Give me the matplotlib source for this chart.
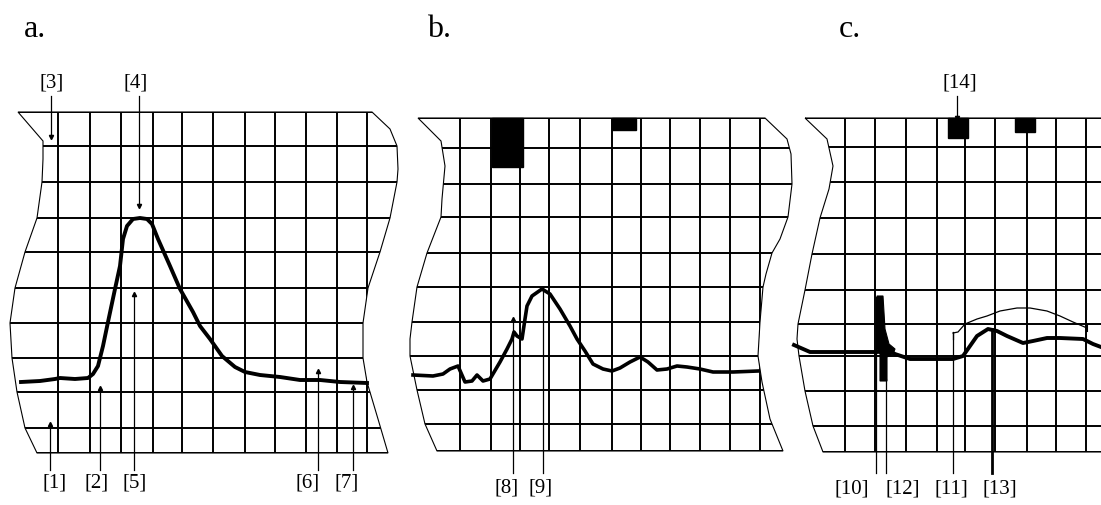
import matplotlib
matplotlib.use("Agg")
import matplotlib.pyplot as plt
from matplotlib.patches import Polygon, Rectangle

W, H = 1101, 506

# ---------------- panel titles ----------------
panel_titles = ["a.", "b.", "c."]
title_x = [24, 427, 839]
title_y = 37

# ---------------- grids (pixel coordinates of the chart paper) ----------------
grid_x_a = [58, 90, 121, 153, 182, 213, 245, 275, 306, 337, 367]
grid_y_a = [113, 147, 183, 219, 253, 289, 324, 359, 393, 429, 454]
grid_x_b = [460, 491, 520, 549, 580, 612, 641, 670, 700, 730, 760]
grid_y_b = [119, 149, 185, 218, 254, 288, 323, 357, 391, 425, 452]
grid_x_c = [845, 875, 906, 937, 965, 995, 1027, 1056, 1086]
grid_y_c = [119, 148, 183, 219, 255, 291, 325, 357, 392, 427, 453]

# torn-paper outlines
edge_a_x = [18, 372, 390, 397, 398, 397, 390, 380, 368, 363, 363, 367, 378, 388,
            37, 25, 17, 12, 10, 15, 25, 37, 42, 43, 43, 18]
edge_a_y = [113, 113, 130, 147, 170, 183, 219, 253, 289, 324, 359, 383, 420, 454,
            454, 429, 393, 359, 324, 289, 253, 219, 183, 160, 142, 113]
edge_b_x = [418, 765, 787, 791, 792, 788, 780, 772, 766, 763, 760, 758, 762, 770, 783,
            437, 425, 417, 410, 410, 412, 417, 427, 441, 442, 445, 441, 418]
edge_b_y = [119, 119, 140, 155, 185, 218, 240, 254, 275, 288, 323, 357, 383, 420, 452,
            452, 425, 391, 357, 340, 323, 288, 254, 218, 200, 167, 142, 119]
edge_c_x = [805, 1115, 1115, 823, 813, 805, 799, 797, 798, 805, 812, 820, 829, 833, 827, 805]
edge_c_y = [119, 119, 453, 453, 427, 392, 357, 340, 325, 291, 255, 219, 190, 167, 140, 119]

# ---------------- recorded traces ----------------
trace_a_x = [21, 40, 55, 60, 75, 88, 93, 98, 103, 108, 115, 120, 123, 127, 133, 140, 147,
             152, 158, 170, 180, 193, 200, 210, 222, 235, 245, 260, 280, 300, 320, 340, 367]
trace_a_y = [383, 382, 380, 379, 380, 379, 375, 367, 347, 323, 290, 267, 240, 227, 220, 219, 220,
             225, 240, 267, 290, 313, 327, 340, 357, 368, 373, 376, 378, 381, 381, 383, 384]

trace_b_x = [413, 433, 443, 450, 458, 465, 472, 477, 483, 490, 500, 507, 512, 514, 517, 522,
             525, 527, 532, 542, 550, 560, 570, 577, 585, 593, 603, 612, 620, 630, 640, 648,
             657, 667, 677, 687, 700, 713, 733, 758]
trace_b_y = [376, 377, 375, 370, 367, 383, 382, 376, 382, 380, 363, 350, 340, 333, 337, 340,
             320, 307, 297, 290, 295, 310, 327, 340, 352, 365, 370, 372, 369, 363, 358, 363,
             371, 370, 367, 368, 370, 373, 373, 372]

trace_c_x = [794, 810, 860, 877, 890, 895, 910, 953, 963, 970, 977, 988,
             997, 1007, 1023, 1033, 1047, 1060, 1083, 1093, 1101]
trace_c_y = [346, 353, 353, 353, 352, 355, 360, 360, 357, 347, 337, 330,
             332, 337, 344, 342, 339, 339, 340, 345, 348]

# sharp artefact spike in trace c (filled outline)
spike_c_x = [877, 883, 885, 889, 895, 893, 887, 887, 880, 880, 877]
spike_c_y = [297, 297, 330, 345, 350, 355, 358, 382, 382, 355, 350]

thin_c_x = [953, 958, 965, 977, 987, 1000, 1017, 1030, 1047, 1060, 1073, 1087]
thin_c_y = [334, 333, 325, 320, 317, 312, 309, 309, 312, 317, 323, 329]

# black marker blocks (x0, y0, width, height)
blocks_x = [492, 612, 948, 1015]
blocks_y = [119, 119, 119, 119]
blocks_w = [31, 24, 20, 20]
blocks_h = [49, 12, 20, 14]

# ---------------- annotation labels ----------------
labels_bottom = ["[1]", "[2]", "[5]", "[6]", "[7]", "[8]", "[9]", "[10]", "[12]", "[11]", "[13]"]
labels_bottom_x = [55, 97, 135, 308, 347, 507, 541, 852, 903, 951, 1000]
labels_bottom_y = [483, 483, 483, 483, 483, 488, 488, 489, 489, 489, 489]
leader_bottom_x = [50, 100, 134, 318, 353, 513, 543, 876, 886, 953, 992]
leader_bottom_tip = [425, 389, 295, 372, 388, 320, 288, 298, 380, 333, 330]
leader_bottom_from = [471, 471, 471, 471, 471, 474, 474, 474, 474, 474, 474]

labels_top = ["[3]", "[4]", "[14]"]
labels_top_x = [52, 136, 960]
labels_top_y = [83, 83, 83]
leader_top_x = [51, 139, 957]
leader_top_tip = [138, 207, 119]
leader_top_from = [97, 97, 97]

SERIF = ["Liberation Serif", "DejaVu Serif"]

fig = plt.figure(figsize=(W / 100, H / 100), dpi=100)
ax = fig.add_axes([0, 0, 1, 1])
ax.set_xlim(0, W)
ax.set_ylim(H, 0)
ax.axis("off")

grid_lw = 1.4
panels = [
    (grid_x_a, grid_y_a, edge_a_x, edge_a_y),
    (grid_x_b, grid_y_b, edge_b_x, edge_b_y),
    (grid_x_c, grid_y_c, edge_c_x, edge_c_y),
]
for gx, gy, ex, ey in panels:
    poly = Polygon(list(zip(ex, ey)), closed=True, fill=False, edgecolor="black",
                   lw=0.8, zorder=2)
    ax.add_patch(poly)
    x0, x1 = min(ex) - 5, max(ex) + 5
    for y in gy:
        ln, = ax.plot([x0, x1], [y, y], color="black", lw=grid_lw, zorder=1,
                      solid_capstyle="butt")
        ln.set_clip_path(poly)
    for x in gx:
        ln, = ax.plot([x, x], [gy[0], gy[-1]], color="black", lw=grid_lw, zorder=1,
                      solid_capstyle="butt")
        ln.set_clip_path(poly)

for bx, by, bw, bh in zip(blocks_x, blocks_y, blocks_w, blocks_h):
    ax.add_patch(Rectangle((bx, by), bw, bh, facecolor="black", edgecolor="black", zorder=3))

ax.plot(trace_a_x, trace_a_y, color="black", lw=2.8, zorder=4, solid_joinstyle="round")
ax.plot(trace_b_x, trace_b_y, color="black", lw=2.6, zorder=4, solid_joinstyle="round")
ax.plot(trace_c_x, trace_c_y, color="black", lw=2.8, zorder=4, solid_joinstyle="round")
ax.add_patch(Polygon(list(zip(spike_c_x, spike_c_y)), closed=True, facecolor="black",
                     edgecolor="black", lw=0.8, zorder=4))
ax.plot(thin_c_x, thin_c_y, color="black", lw=0.9, zorder=4)
# small end ticks on the thin overlay
ax.plot([thin_c_x[0], thin_c_x[0]], [thin_c_y[0], thin_c_y[0] + 6], color="black", lw=0.9)
ax.plot([thin_c_x[-1], thin_c_x[-1]], [thin_c_y[-1] - 3, thin_c_y[-1] + 3], color="black", lw=1.5)

for i, (x, y0, y1) in enumerate(zip(leader_bottom_x, leader_bottom_from, leader_bottom_tip)):
    lw = 2.0 if labels_bottom[i] == "[13]" else 0.9
    ax.plot([x, x], [y0, y1], color="black", lw=lw, zorder=5)
    if i < 6:
        ax.plot([x], [y1], marker="^", ms=3, color="black", zorder=5)
for x, y0, y1 in zip(leader_top_x, leader_top_from, leader_top_tip):
    ax.plot([x, x], [y0, y1], color="black", lw=0.9, zorder=5)
    ax.plot([x], [y1], marker="v", ms=3, color="black", zorder=5)

for t, x, y in zip(labels_bottom, labels_bottom_x, labels_bottom_y):
    ax.text(x, y, t, ha="center", va="center", fontsize=15, family=SERIF)
for t, x, y in zip(labels_top, labels_top_x, labels_top_y):
    ax.text(x, y, t, ha="center", va="center", fontsize=15, family=SERIF)
for t, x in zip(panel_titles, title_x):
    ax.text(x, title_y, t, ha="left", va="baseline", fontsize=23, family=SERIF)

fig.savefig("out.png", dpi=100)
